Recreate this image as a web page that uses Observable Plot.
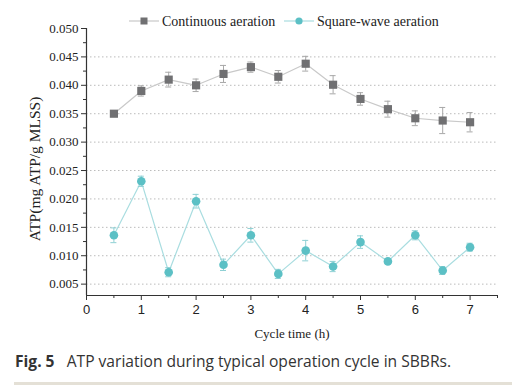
<!DOCTYPE html>
<html><head><meta charset="utf-8">
<script src="https://cdn.jsdelivr.net/npm/d3@7"></script>
<script src="https://cdn.jsdelivr.net/npm/@observablehq/plot@0.6"></script>
<style>
body{margin:0;background:#fff;width:522px;height:387px;overflow:hidden;position:relative;}
#chart{position:absolute;left:0;top:0;}
#legend{position:absolute;left:0;top:10px;width:522px;height:22px;font-family:"Liberation Serif",serif;font-size:14px;color:#222;}
#caption{position:absolute;left:15px;top:350px;font-family:"Open Sans",sans-serif;font-size:15.6px;color:#333;white-space:nowrap;}
#rule{position:absolute;left:14px;top:382px;width:498px;height:3px;background:#e4e0d6;}
</style></head>
<body>
<div id="chart"></div>
<div id="legend"></div>
<div id="caption"><b>Fig. 5</b>&nbsp;&nbsp; ATP variation during typical operation cycle in SBBRs.</div>
<div id="rule"></div>
<script>
const times = [0.5,1,1.5,2,2.5,3,3.5,4,4.5,5,5.5,6,6.5,7];
const continuous = [0.0350,0.0390,0.0410,0.0400,0.0420,0.0432,0.0415,0.0438,0.0401,0.0376,0.0358,0.0342,0.0338,0.0335];
const continuousErr = [0.0004,0.0009,0.0013,0.0011,0.0015,0.0009,0.0011,0.0013,0.0016,0.0011,0.0014,0.0013,0.0023,0.0017];
const squareWave = [0.0136,0.0231,0.0071,0.0196,0.0084,0.0136,0.0068,0.0109,0.0081,0.0124,0.0090,0.0136,0.0074,0.0115];
const squareWaveErr = [0.0013,0.0009,0.0008,0.0012,0.0010,0.0012,0.0008,0.0018,0.0009,0.0011,0.0004,0.0008,0.0007,0.0007];
const seriesNames = ["Continuous aeration","Square-wave aeration"];
const yTicks = [0.005,0.010,0.015,0.020,0.025,0.030,0.035,0.040,0.045,0.050];
const yMinor = [0.0075,0.0125,0.0175,0.0225,0.0275,0.0325,0.0375,0.0425,0.0475];
const xTicks = [0,1,2,3,4,5,6,7];
const xMinor = [0.5,1.5,2.5,3.5,4.5,5.5,6.5,7.5];

const lineC = "#c9c9c9", markC = "#707072";
const lineS = "#a9dde0", markS = "#5cc0c5";

const cData = times.map((t,i)=>({x:t,y:continuous[i],e:continuousErr[i]}));
const sData = times.map((t,i)=>({x:t,y:squareWave[i],e:squareWaveErr[i]}));
const cap = 0.055;
const blank = () => "";

function errMarks(data, color){
  return [
    Plot.ruleX(data,{x:"x",y1:d=>d.y-d.e,y2:d=>d.y+d.e,stroke:color,strokeWidth:1}),
    Plot.ruleY(data,{y:d=>d.y-d.e,x1:d=>d.x-cap,x2:d=>d.x+cap,stroke:color,strokeWidth:1}),
    Plot.ruleY(data,{y:d=>d.y+d.e,x1:d=>d.x-cap,x2:d=>d.x+cap,stroke:color,strokeWidth:1})
  ];
}

const plot = Plot.plot({
  width:522, height:345,
  marginLeft:86, marginRight:25, marginTop:28, marginBottom:50,
  style:{fontFamily:"Liberation Serif, serif", fontSize:"13px", color:"#222", background:"transparent"},
  x:{domain:[0,7.5], axis:null},
  y:{domain:[0.003,0.050], axis:null},
  marks:[
    Plot.gridY(yTicks.filter(v=>v<0.05),{stroke:"#bbb",strokeOpacity:1,strokeDasharray:"1.5,2.5",strokeWidth:1}),
    Plot.lineY(cData,{x:"x",y:"y",stroke:lineC,strokeWidth:1.2}),
    ...errMarks(cData,"#a8a8a8"),
    Plot.dot(cData,{x:"x",y:"y",symbol:"square",r:4.6,fill:markC,stroke:"none"}),
    Plot.lineY(sData,{x:"x",y:"y",stroke:lineS,strokeWidth:1.2}),
    ...errMarks(sData,"#8fd0d4"),
    Plot.dot(sData,{x:"x",y:"y",symbol:"circle",r:4.3,fill:markS,stroke:"none"}),
    Plot.axisY(yTicks,{tickSize:5,tickFormat:d3.format(".3f"),stroke:"#333",fill:"#222",fontSize:13,tickPadding:3,label:null}),
    Plot.axisY(yMinor,{tickSize:3,tickFormat:blank,stroke:"#333",label:null}),
    Plot.ruleX([0],{stroke:"#333",strokeWidth:1.2}),
    Plot.axisX(xTicks,{tickSize:5,stroke:"#333",fill:"#222",fontFamily:"Liberation Sans, sans-serif",fontSize:13,tickPadding:4,label:null}),
    Plot.axisX(xMinor,{tickSize:3,tickFormat:blank,stroke:"#333",label:null}),
    Plot.ruleY([0.003],{stroke:"#333",strokeWidth:1.2}),
    Plot.text(["Cycle time (h)"],{frameAnchor:"bottom",dy:42,fill:"#222",fontSize:13}),
    Plot.text(["ATP(mg ATP/g MLSS)"],{frameAnchor:"left",textAnchor:"middle",dx:-51,dy:7,rotate:-90,fill:"#222",fontSize:15.5})
  ]
});
document.getElementById("chart").appendChild(plot);

// legend
const lg = d3.select("#legend").append("svg").attr("width",522).attr("height",22);
const items = [
  {x0:129,name:seriesNames[0],line:lineC,mark:markC,sym:"square"},
  {x0:284,name:seriesNames[1],line:lineS,mark:markS,sym:"circle"}
];
items.forEach(it=>{
  lg.append("line").attr("x1",it.x0).attr("x2",it.x0+30).attr("y1",11).attr("y2",11).attr("stroke",it.line).attr("stroke-width",1.2);
  if(it.sym==="square") lg.append("rect").attr("x",it.x0+11.5).attr("y",7.5).attr("width",7).attr("height",7).attr("fill",it.mark);
  else lg.append("circle").attr("cx",it.x0+15).attr("cy",11).attr("r",3.6).attr("fill",it.mark);
  lg.append("text").attr("x",it.x0+33).attr("y",15.5).attr("font-family","Liberation Serif, serif").attr("font-size",14).attr("fill","#222").text(it.name);
});
</script>
</body></html>
